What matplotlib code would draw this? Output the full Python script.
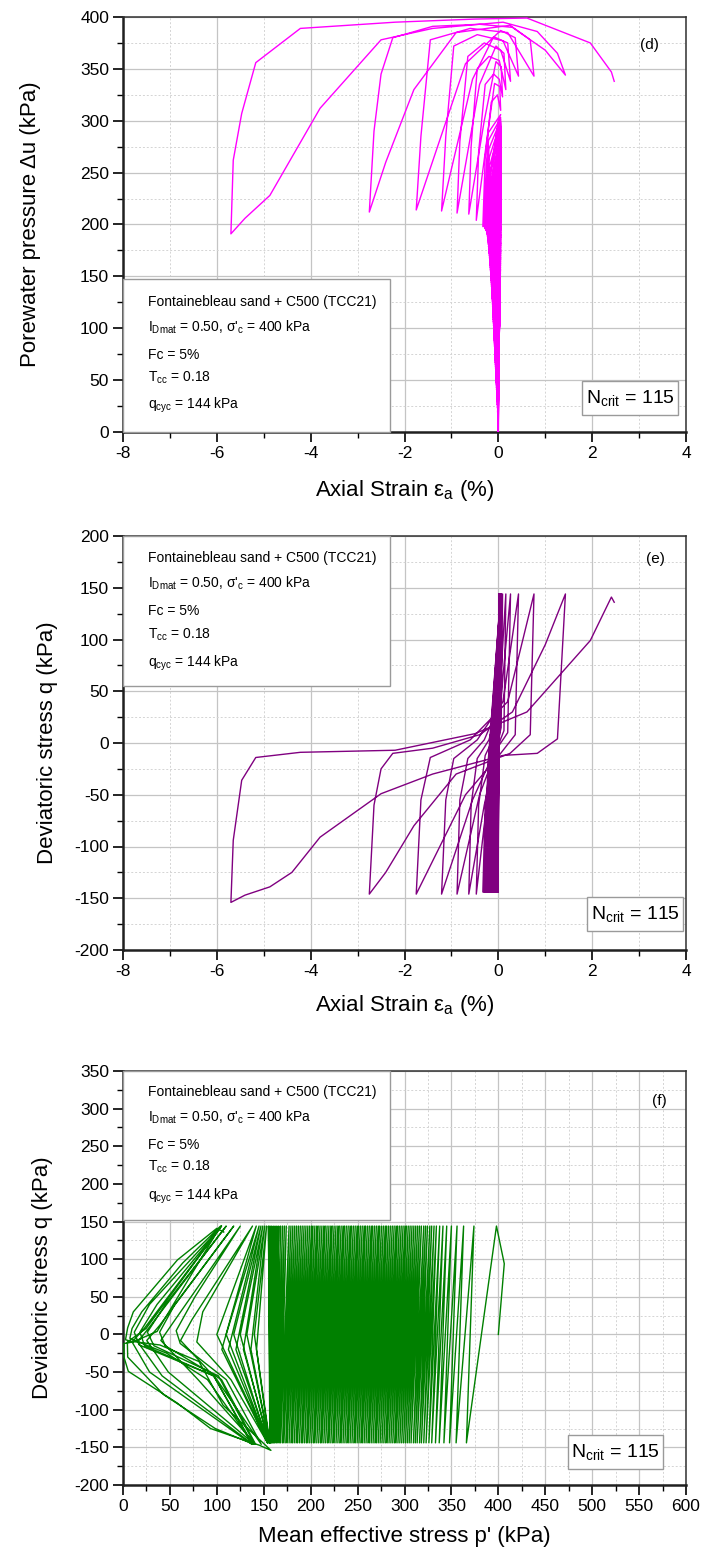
import numpy as np
import matplotlib
matplotlib.use("Agg")
import matplotlib.pyplot as plt
from matplotlib.ticker import MultipleLocator
from matplotlib.patches import Rectangle

plt.rcParams['font.family'] = ['Liberation Sans', 'DejaVu Sans']
plt.rcParams['mathtext.default'] = 'regular'
plt.rcParams['axes.unicode_minus'] = False

SIGMA_C = 400.0   # kPa, consolidation stress
QCYC = 144.0      # kPa, cyclic amplitude

# first monotonic loading (strain %, q kPa, du kPa)
START_EA = [0.0, 0.004]
START_Q = [0.0, 94.0]
START_DU = [0.0, 25.0]

# steady cycles 1-101: p' at compression peak (q=+qcyc) and extension peak (q=-qcyc)
P_TOP = [398, 374, 363, 356, 350, 345, 341, 337.5, 334, 331.5,
         329, 327, 324.5, 322.5, 320.5, 318, 316, 314, 312, 310,
         308, 306, 304, 302, 300.5, 298.5, 296.5, 294.5, 292.5, 291,
         289, 287, 285, 283, 281, 279.5, 277.5, 275.5, 273.5, 272,
         270, 268, 266, 264.5, 262.5, 260.5, 258.5, 257, 255, 253,
         251, 249.5, 247.5, 245.5, 243.5, 242, 240, 238, 236, 234.5,
         232.5, 230.5, 229, 227, 225, 223, 221.5, 219.5, 217.5, 215.5,
         214, 212, 210, 208, 206.5, 204.5, 202.5, 201, 199, 197,
         195, 193, 191, 189, 187, 185, 183, 181, 179, 177,
         174, 172, 170, 168, 166, 164, 162, 160, 158, 156.5,
         155]
P_BOT = [366, 355, 348, 342, 337, 333, 329, 326, 323, 320.5,
         318, 316, 313.5, 311.5, 309.5, 307, 305, 303, 301, 299,
         297, 295, 293, 291, 289.5, 287.5, 285.5, 283.5, 281.5, 280,
         278, 276, 274, 272, 270, 268.5, 266.5, 264.5, 262.5, 261,
         259, 257, 255, 253.5, 251.5, 249.5, 247.5, 246, 244, 242,
         240, 238.5, 236.5, 234.5, 232.5, 231, 229, 227, 225, 223.5,
         221.5, 219.5, 218, 216, 214, 212, 210.5, 208.5, 206.5, 204.5,
         203, 201, 199, 197, 195.5, 193.5, 191.5, 190, 188, 186,
         184.5, 182.5, 180.5, 179, 177, 175, 173.5, 171.5, 170, 168,
         166.5, 165, 163.5, 162, 161, 160, 159, 158, 157.5, 157,
         156.5]
EA_TOP = [0.01, 0.014, 0.017, 0.02, 0.022, 0.024, 0.026, 0.028, 0.03, 0.031,
          0.032, 0.033, 0.034, 0.035, 0.036, 0.037, 0.038, 0.038, 0.039, 0.04,
          0.04, 0.041, 0.041, 0.042, 0.042, 0.043, 0.043, 0.044, 0.044, 0.045,
          0.045, 0.045, 0.046, 0.046, 0.046, 0.047, 0.047, 0.047, 0.048, 0.048,
          0.048, 0.048, 0.049, 0.049, 0.049, 0.049, 0.05, 0.05, 0.05, 0.05,
          0.05, 0.051, 0.051, 0.051, 0.051, 0.052, 0.052, 0.052, 0.052, 0.053,
          0.053, 0.053, 0.053, 0.054, 0.054, 0.054, 0.054, 0.055, 0.055, 0.055,
          0.055, 0.055, 0.056, 0.056, 0.056, 0.056, 0.056, 0.057, 0.057, 0.057,
          0.057, 0.057, 0.057, 0.058, 0.058, 0.058, 0.058, 0.058, 0.058, 0.058,
          0.058, 0.057, 0.057, 0.057, 0.056, 0.056, 0.055, 0.055, 0.054, 0.054,
          0.053]
EA_BOT = [-0.002, -0.004, -0.006, -0.009, -0.012, -0.015, -0.018, -0.021, -0.025, -0.028,
          -0.03, -0.032, -0.034, -0.037, -0.039, -0.041, -0.043, -0.045, -0.048, -0.05,
          -0.052, -0.054, -0.056, -0.058, -0.06, -0.062, -0.064, -0.066, -0.068, -0.07,
          -0.072, -0.074, -0.076, -0.078, -0.08, -0.082, -0.084, -0.086, -0.088, -0.09,
          -0.092, -0.094, -0.096, -0.098, -0.1, -0.102, -0.104, -0.106, -0.108, -0.11,
          -0.112, -0.114, -0.116, -0.118, -0.12, -0.122, -0.124, -0.126, -0.128, -0.13,
          -0.132, -0.135, -0.137, -0.14, -0.142, -0.145, -0.147, -0.15, -0.152, -0.155,
          -0.158, -0.161, -0.164, -0.167, -0.17, -0.173, -0.176, -0.179, -0.182, -0.185,
          -0.188, -0.191, -0.195, -0.198, -0.202, -0.205, -0.209, -0.212, -0.216, -0.22,
          -0.224, -0.228, -0.232, -0.236, -0.24, -0.245, -0.25, -0.255, -0.26, -0.265,
          -0.27]

# transition cycles 102-107 and last eight cycles up to liquefaction (strain %, q kPa, du kPa)
LATE_EA = [-0.17, 0.053, 0.02, -0.276,
           -0.18, 0.052, 0.02, -0.283,
           -0.19, 0.052, 0.02, -0.29,
           -0.20, 0.051, 0.02, -0.30,
           -0.21, 0.050, 0.01, -0.31,
           -0.22, 0.050, 0.00, -0.33,
           -0.28, -0.15, -0.02, 0.05, 0.03, -0.08, -0.25, -0.47,
           -0.42, -0.28, -0.10, 0.02, 0.09, 0.06, -0.05, -0.30, -0.63,
           -0.58, -0.45, -0.20, 0.02, 0.16, 0.12, -0.05, -0.40, -0.88,
           -0.82, -0.65, -0.30, 0.05, 0.26, 0.20, -0.10, -0.55, -1.21,
           -1.12, -0.95, -0.45, 0.10, 0.43, 0.36, 0.05, -0.70, -1.75,
           -1.65, -1.45, -0.60, 0.20, 0.76, 0.68, 0.25, -0.90, -1.80, -2.40, -2.75,
           -2.65, -2.50, -2.25, -1.40, -0.40, 0.30, 1.00, 1.43,
           1.26, 0.83, 0.10, -1.40, -2.50, -3.80, -4.40, -4.87, -5.40, -5.70,
           -5.65, -5.47, -5.17, -4.22, -2.20, -0.50, 0.61, 1.96, 2.41, 2.47]
LATE_Q = [-20, 144, 0, -144,
          -20, 144, 0, -144,
          -20, 144, 0, -144,
          -20, 144, 0, -144,
          -20, 144, 0, -144,
          -20, 144, 0, -144,
          -60, -10, 30, 144, 20, -8, -60, -146,
          -60, -12, 5, 50, 144, 15, -8, -60, -146,
          -60, -15, 3, 40, 144, 12, -8, -50, -146,
          -55, -15, 3, 40, 144, 10, -10, -55, -146,
          -55, -15, 3, 40, 144, 8, -10, -50, -146,
          -55, -14, 3, 40, 144, 8, -10, -30, -80, -125, -146,
          -60, -25, -10, -5, 8, 30, 95, 144,
          4, -10, -12, -30, -49, -91, -125, -139, -147, -154,
          -94, -36, -14, -9, -7, 9, 30, 99, 141, 136]
LATE_DU = [251, 295, 260, 196,
           257, 297, 268, 196,
           265, 299, 275, 197,
           273, 301, 282, 198,
           281, 303, 290, 198,
           288, 306, 300, 198,
           265, 318, 325, 310, 333, 336, 280, 204,
           270, 335, 345, 340, 323, 352, 357, 300, 210,
           275, 350, 362, 358, 330, 365, 372, 335, 211,
           280, 362, 375, 368, 338, 375, 381, 340, 213,
           285, 372, 383, 377, 343, 380, 387, 355, 214,
           285, 378, 389, 385, 343, 378, 392, 385, 330, 260, 212,
           290, 345, 380, 391, 393, 390, 368, 344,
           365, 386, 395, 389, 378, 312, 265, 228, 206, 191,
           262, 307, 356, 389, 395, 398, 399, 375, 347, 338]

INFO = ["Fontainebleau sand + C500 (TCC21)",
        "$I_{Dmat}$ = 0.50, σ'$_c$ = 400 kPa",
        "Fc = 5%",
        "$T_{cc}$ = 0.18",
        "$q_{cyc}$ = 144 kPa"]
NCRIT = "$N_{crit}$ = 115"

# assemble the full test record
n = len(P_TOP)
ea_cyc = np.ravel(np.column_stack([EA_TOP, EA_BOT]))
q_cyc = np.ravel(np.column_stack([np.full(n, QCYC), np.full(n, -QCYC)]))
p_cyc = np.ravel(np.column_stack([P_TOP, P_BOT]))
du_cyc = SIGMA_C + q_cyc / 3 - p_cyc

ea = np.concatenate([START_EA, ea_cyc, LATE_EA])
q = np.concatenate([START_Q, q_cyc, LATE_Q])
du = np.concatenate([START_DU, du_cyc, LATE_DU])
p = SIGMA_C + q / 3 - du

fig = plt.figure(figsize=(7.01, 15.59), dpi=100)
W, H = 701, 1559


def make_axes(top, bottom):
    return fig.add_axes([123 / W, (H - bottom) / H, 563 / W, (bottom - top) / H])


def style(ax, xmaj, ymaj):
    ax.xaxis.set_major_locator(MultipleLocator(xmaj))
    ax.xaxis.set_minor_locator(MultipleLocator(xmaj / 2))
    ax.yaxis.set_major_locator(MultipleLocator(ymaj))
    ax.yaxis.set_minor_locator(MultipleLocator(ymaj / 2))
    ax.grid(True, which='major', color='#c4c4c4', lw=0.9)
    ax.grid(True, which='minor', color='#d4d4d4', lw=0.7, ls=(0, (2, 2)))
    ax.set_axisbelow(True)
    ax.tick_params(which='major', direction='out', length=7, width=1.2, labelsize=12.5, pad=3)
    ax.tick_params(which='minor', direction='out', length=4, width=1.0)
    for side in ('left', 'bottom'):
        ax.spines[side].set_linewidth(1.8)
        ax.spines[side].set_color('#202020')
    for side in ('top', 'right'):
        ax.spines[side].set_linewidth(1.1)
        ax.spines[side].set_color('#303030')


def info_box(ax, x1, y0, y1, ys):
    ax.add_patch(Rectangle((0, y0), x1, y1 - y0, transform=ax.transAxes, facecolor='white',
                           edgecolor='#9a9a9a', lw=1.0, zorder=5, clip_on=False))
    for line, y in zip(INFO, ys):
        ax.text(0.044, y, line, transform=ax.transAxes, fontsize=10, va='center', ha='left', zorder=6)


def ncrit_box(ax, x0, x1, y0, y1):
    ax.add_patch(Rectangle((x0, y0), x1 - x0, y1 - y0, transform=ax.transAxes, facecolor='white',
                           edgecolor='#9a9a9a', lw=1.0, zorder=5))
    ax.text((x0 + x1) / 2, (y0 + y1) / 2, NCRIT, transform=ax.transAxes, fontsize=14,
            va='center', ha='center', zorder=6)


# (d) pore pressure vs axial strain
ax = make_axes(17, 432)
ax.plot(ea, du, color='#ff00ff', lw=1.0, zorder=3)
ax.set_xlim(-8, 4)
ax.set_ylim(0, 400)
style(ax, 2, 50)
ax.set_xlabel("Axial Strain ε$_a$ (%)", fontsize=16)
ax.set_ylabel("Porewater pressure Δu (kPa)", fontsize=16)
ax.xaxis.set_label_coords(0.5, -0.11)
ax.yaxis.set_label_coords(-0.145, 0.5)
info_box(ax, 0.474, 0.0, 0.368, [0.314, 0.252, 0.186, 0.131, 0.065])
ncrit_box(ax, 0.816, 0.985, 0.040, 0.123)
ax.text(0.935, 0.932, "(d)", transform=ax.transAxes, fontsize=11, ha='center', va='center')

# (e) deviatoric stress vs axial strain
ax = make_axes(536, 950)
ax.plot(ea, q, color='#800080', lw=1.0, zorder=3)
ax.set_xlim(-8, 4)
ax.set_ylim(-200, 200)
style(ax, 2, 50)
ax.set_xlabel("Axial Strain ε$_a$ (%)", fontsize=16)
ax.set_ylabel("Deviatoric stress q (kPa)", fontsize=16)
ax.xaxis.set_label_coords(0.5, -0.105)
ax.yaxis.set_label_coords(-0.115, 0.5)
info_box(ax, 0.474, 0.637, 1.0, [0.947, 0.885, 0.819, 0.762, 0.693])
ncrit_box(ax, 0.824, 0.995, 0.047, 0.127)
ax.text(0.945, 0.945, "(e)", transform=ax.transAxes, fontsize=11, ha='center', va='center')

# (f) stress path
ax = make_axes(1071, 1485)
ax.plot(p, q, color='#008000', lw=1.0, zorder=3)
ax.set_xlim(0, 600)
ax.set_ylim(-200, 350)
style(ax, 50, 50)
ax.set_xlabel("Mean effective stress p' (kPa)", fontsize=16)
ax.set_ylabel("Deviatoric stress q (kPa)", fontsize=16)
ax.xaxis.set_label_coords(0.5, -0.1)
ax.yaxis.set_label_coords(-0.125, 0.5)
info_box(ax, 0.475, 0.639, 1.0, [0.949, 0.889, 0.822, 0.768, 0.697])
ncrit_box(ax, 0.791, 0.959, 0.038, 0.120)
ax.text(0.952, 0.928, "(f)", transform=ax.transAxes, fontsize=11, ha='center', va='center')

fig.savefig("out.png", dpi=100)
